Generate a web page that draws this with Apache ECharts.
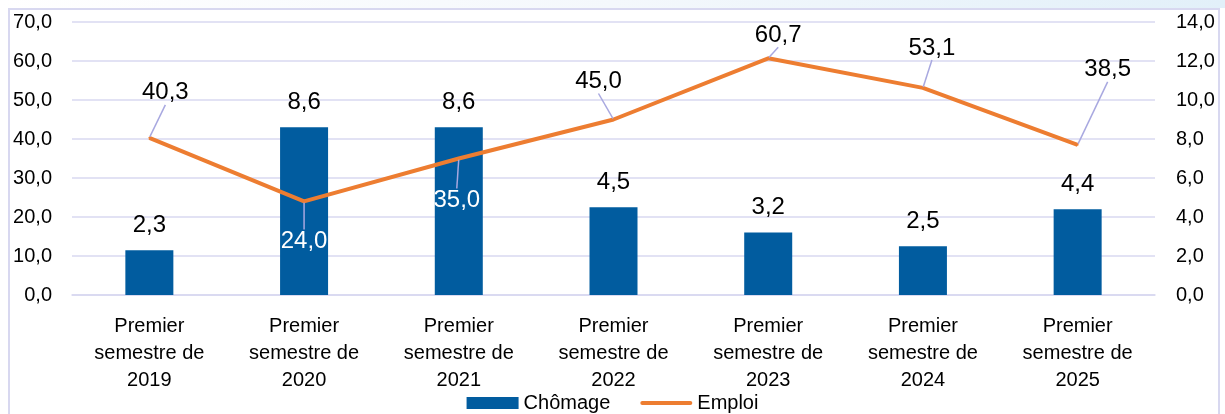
<!DOCTYPE html>
<html>
<head>
<meta charset="utf-8">
<script src="https://cdn.jsdelivr.net/npm/echarts@6/dist/echarts.min.js"></script>
<style>
  html, body { margin: 0; padding: 0; background: #fff; }
  #chart { width: 1225px; height: 414px; }
</style>
</head>
<body>
<div id="chart"></div>
<script>
    // data
    var categories = ['Premier\nsemestre de\n2019', 'Premier\nsemestre de\n2020', 'Premier\nsemestre de\n2021',
        'Premier\nsemestre de\n2022', 'Premier\nsemestre de\n2023', 'Premier\nsemestre de\n2024', 'Premier\nsemestre de\n2025']
    var chomage = [2.3, 8.6, 8.6, 4.5, 3.2, 2.5, 4.4]
    var emploi = [40.3, 24.0, 35.0, 45.0, 60.7, 53.1, 38.5]

    // label offsets for the Emploi labels (Excel style, moved by hand)
    var labelOffsets = [[16, -45], [0, 40], [-2, 42], [-15, -38], [10, -23], [9, -40], [30, -75]]
    var whiteLabels = [1, 2]

    var fontFamily = "'Liberation Sans', Arial, sans-serif"
    var gridColor = '#D8D8F0'

    function fr(v){
        return v.toFixed(1).replace('.', ',')
    }

    var chart = echarts.init(document.getElementById('chart'))
    chart.setOption({
        animation: false,
        textStyle: { fontFamily: fontFamily },
        graphic: [
            {
                type: 'rect', left: 0, top: 0, z: -10,
                shape: { width: 1225, height: 8 },
                style: {
                    fill: new echarts.graphic.LinearGradient(0, 0, 1, 0, [
                        { offset: 0, color: '#ffffff' },
                        { offset: 0.5, color: '#F4F8FC' },
                        { offset: 1, color: '#E2F0F9' }
                    ])
                }
            },
            {
                type: 'rect', left: 8, top: 8, z: -5,
                shape: { width: 1210, height: 420 },
                style: { fill: '#fff', stroke: gridColor, lineWidth: 2 }
            }
        ],
        grid: { left: 72, right: 70, top: 22, bottom: 119 },
        legend: {
            top: 388,
            left: 'center',
            itemWidth: 52,
            itemHeight: 12,
            itemGap: 30,
            textStyle: { fontSize: 20, color: '#000', fontFamily: fontFamily },
            data: [
                { name: 'Chômage', icon: 'rect' },
                { name: 'Emploi', icon: 'path://M2,0 L50,0 A2,2 0 0 1 50,4 L2,4 A2,2 0 0 1 2,0 Z' }
            ]
        },
        xAxis: {
            type: 'category',
            data: categories,
            axisTick: { show: false },
            axisLine: { lineStyle: { color: gridColor, width: 1.5 } },
            axisLabel: { color: '#000', fontSize: 20, lineHeight: 27, margin: 18, interval: 0 }
        },
        yAxis: [
            {
                type: 'value', min: 0, max: 70, interval: 10,
                axisLabel: { color: '#000', fontSize: 20, margin: 20, formatter: fr },
                splitLine: { lineStyle: { color: gridColor, width: 1.5 } }
            },
            {
                type: 'value', min: 0, max: 14, interval: 2, position: 'right',
                axisLabel: { color: '#000', fontSize: 20, margin: 21, formatter: fr },
                splitLine: { show: false }
            }
        ],
        series: [
            {
                name: 'Chômage',
                type: 'bar',
                yAxisIndex: 1,
                data: chomage,
                barWidth: 48,
                itemStyle: { color: '#015C9F' },
                label: {
                    show: true, position: 'top', distance: 13,
                    fontSize: 24, color: '#000',
                    formatter: function(p){ return fr(p.value) }
                }
            },
            {
                name: 'Emploi',
                type: 'line',
                yAxisIndex: 0,
                data: emploi,
                symbol: 'circle',
                symbolSize: 2,
                showSymbol: true,
                z: 3,
                itemStyle: { color: '#ED7D31' },
                lineStyle: { color: '#ED7D31', width: 4 },
                label: {
                    show: true, position: 'inside',
                    fontSize: 24, color: '#000',
                    formatter: function(p){
                        return whiteLabels.indexOf(p.dataIndex) >= 0 ? '{w|' + fr(p.value) + '}' : fr(p.value)
                    },
                    rich: { w: { color: '#fff', fontSize: 24 } }
                },
                labelLine: { show: true, lineStyle: { color: '#A8A8E0', width: 1.5 } },
                labelLayout: function(params){
                    var o = labelOffsets[params.dataIndex]
                    return { dx: o[0], dy: o[1] }
                }
            }
        ]
    })
</script>
</body>
</html>
